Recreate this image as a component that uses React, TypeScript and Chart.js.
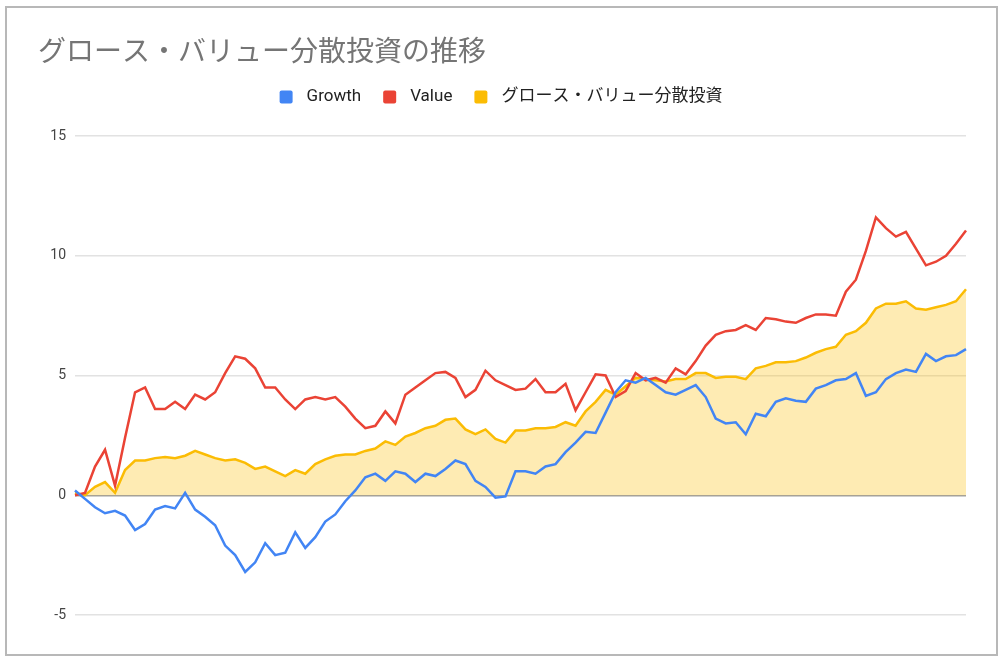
import { useEffect, useRef } from 'react';
import { Chart, registerables } from 'chart.js';

Chart.register(...registerables);

const TITLE = 'グロース・バリュー分散投資の推移';
const SERIES_NAMES = ['Growth', 'Value', 'グロース・バリュー分散投資'];
const Y_TICKS = [-5, 0, 5, 10, 15];

const growth = [
  0.2, -0.15, -0.5, -0.75, -0.65, -0.85, -1.45, -1.2, -0.6, -0.45,
  -0.55, 0.1, -0.6, -0.9, -1.25, -2.1, -2.5, -3.2, -2.8, -2.0,
  -2.5, -2.4, -1.55, -2.2, -1.75, -1.1, -0.8, -0.25, 0.2, 0.75,
  0.9, 0.6, 1.0, 0.9, 0.55, 0.9, 0.8, 1.1, 1.45, 1.3,
  0.6, 0.35, -0.1, -0.05, 1.0, 1.0, 0.9, 1.2, 1.3, 1.8,
  2.2, 2.65, 2.6, 3.45, 4.3, 4.8, 4.7, 4.9, 4.6, 4.3,
  4.2, 4.4, 4.6, 4.1, 3.2, 3.0, 3.05, 2.55, 3.4, 3.3,
  3.9, 4.05, 3.95, 3.9, 4.45, 4.6, 4.8, 4.85, 5.1, 4.15,
  4.3, 4.85, 5.1, 5.25, 5.15, 5.9, 5.6, 5.8, 5.85, 6.1,
];

const value = [
  0.0, 0.1, 1.2, 1.9, 0.4, 2.4, 4.3, 4.5, 3.6, 3.6,
  3.9, 3.6, 4.2, 4.0, 4.3, 5.1, 5.8, 5.7, 5.3, 4.5,
  4.5, 4.0, 3.6, 4.0, 4.1, 4.0, 4.1, 3.7, 3.2, 2.8,
  2.9, 3.5, 3.0, 4.2, 4.5, 4.8, 5.1, 5.15, 4.9, 4.1,
  4.4, 5.2, 4.8, 4.6, 4.4, 4.45, 4.85, 4.3, 4.3, 4.65,
  3.55, 4.3, 5.05, 5.0, 4.1, 4.35, 5.1, 4.8, 4.9, 4.7,
  5.3, 5.05, 5.6, 6.25, 6.7, 6.85, 6.9, 7.1, 6.9, 7.4,
  7.35, 7.25, 7.2, 7.4, 7.55, 7.55, 7.5, 8.5, 9.0, 10.2,
  11.6, 11.15, 10.8, 11.0, 10.3, 9.6, 9.75, 10.0, 10.5, 11.05,
];

const blend = [
  0.1, 0.0, 0.35, 0.55, 0.1, 1.05, 1.45, 1.45, 1.55, 1.6,
  1.55, 1.65, 1.85, 1.7, 1.55, 1.45, 1.5, 1.35, 1.1, 1.2,
  1.0, 0.8, 1.05, 0.9, 1.3, 1.5, 1.65, 1.7, 1.7, 1.85,
  1.95, 2.25, 2.1, 2.45, 2.6, 2.8, 2.9, 3.15, 3.2, 2.75,
  2.55, 2.75, 2.35, 2.2, 2.7, 2.7, 2.8, 2.8, 2.85, 3.05,
  2.9, 3.5, 3.9, 4.4, 4.2, 4.55, 4.9, 4.85, 4.8, 4.75,
  4.85, 4.85, 5.1, 5.1, 4.9, 4.95, 4.95, 4.85, 5.3, 5.4,
  5.55, 5.55, 5.6, 5.75, 5.95, 6.1, 6.2, 6.7, 6.85, 7.2,
  7.8, 8.0, 8.0, 8.1, 7.8, 7.75, 7.85, 7.95, 8.1, 8.6,
];

const periods = growth.map((_, i) => String(i + 1));

const FONT = 'Roboto, "Noto Sans CJK JP", sans-serif';

// title + legend painted at fixed spots, like the sheets chart
const headerPlugin = {
  id: 'header',
  afterDraw(chart: Chart) {
    const { ctx } = chart;
    ctx.save();
    ctx.textBaseline = 'middle';
    ctx.textAlign = 'left';
    ctx.font = `28px "Noto Sans CJK JP", sans-serif`;
    ctx.fillStyle = '#757575';
    ctx.fillText(TITLE, 38, 50);

    ctx.font = `17px ${FONT}`;
    const box = 13;
    const gap = 14;
    const sep = 22;
    const items = chart.data.datasets.map((d) => ({
      text: String(d.label),
      color: String(d.borderColor),
      w: ctx.measureText(String(d.label)).width,
    }));
    const total = items.reduce((s, it) => s + box + gap + it.w, 0) + sep * (items.length - 1);
    let x = 501 - total / 2;
    const y = 97;
    items.forEach((it) => {
      ctx.fillStyle = it.color;
      ctx.beginPath();
      ctx.roundRect(x, y - box / 2, box, box, 2);
      ctx.fill();
      ctx.fillStyle = '#222222';
      ctx.fillText(it.text, x + box + gap, y);
      x += box + gap + it.w + sep;
    });
    ctx.restore();
  },
};

const App = () => {
  const canvasRef = useRef<HTMLCanvasElement | null>(null);
  const chartRef = useRef<Chart | null>(null);

  useEffect(() => {
    if (!canvasRef.current) return;
    const ctx = canvasRef.current.getContext('2d');
    if (!ctx) return;

    chartRef.current = new Chart(ctx, {
      type: 'line',
      data: {
        labels: periods,
        datasets: [
          {
            label: SERIES_NAMES[0],
            data: growth,
            borderColor: '#4285F4',
            backgroundColor: '#4285F4',
            borderWidth: 2.5,
            pointRadius: 0,
            fill: false,
          },
          {
            label: SERIES_NAMES[1],
            data: value,
            borderColor: '#EA4335',
            backgroundColor: '#EA4335',
            borderWidth: 2.5,
            pointRadius: 0,
            fill: false,
          },
          {
            label: SERIES_NAMES[2],
            data: blend,
            borderColor: '#FBBC04',
            backgroundColor: 'rgba(251, 188, 4, 0.3)',
            borderWidth: 2.5,
            pointRadius: 0,
            fill: 'origin',
          },
        ],
      },
      options: {
        responsive: false,
        animation: false,
        layout: {
          padding: { left: 0, right: 40, top: 136, bottom: 49 },
        },
        plugins: {
          legend: { display: false },
          title: { display: false },
          tooltip: { enabled: false },
        },
        scales: {
          x: { display: false },
          y: {
            min: -5,
            max: 15,
            afterFit: (scale) => {
              scale.width = 75;
            },
            afterBuildTicks: (scale) => {
              scale.ticks = Y_TICKS.map((v) => ({ value: v }));
            },
            border: { display: false },
            grid: {
              drawTicks: false,
              lineWidth: 1.5,
              color: (c) => (c.tick && c.tick.value === 0 ? '#a0a0a0' : '#e2e2e2'),
            },
            ticks: {
              padding: 9,
              color: '#444444',
              font: { family: FONT, size: 14 },
            },
          },
        },
      },
      plugins: [headerPlugin],
    });

    return () => {
      if (chartRef.current) {
        chartRef.current.destroy();
        chartRef.current = null;
      }
    };
  }, []);

  return (
    <div style={{ position: 'fixed', left: 0, top: 0, width: 1006, height: 664, background: '#ffffff' }}>
      <div
        style={{
          position: 'absolute',
          left: 5,
          top: 6,
          width: 993,
          height: 650,
          boxSizing: 'border-box',
          border: '2px solid #b8b8b8',
        }}
      />
      <canvas
        ref={canvasRef}
        width={1006}
        height={664}
        style={{ position: 'absolute', left: 0, top: 0, width: 1006, height: 664 }}
      />
    </div>
  );
};

export default App;
